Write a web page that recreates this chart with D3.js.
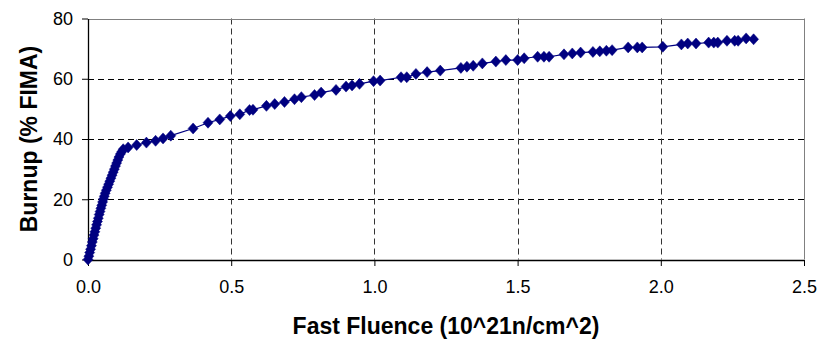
<!DOCTYPE html>
<html>
<head>
<meta charset="utf-8">
<script src="https://cdn.jsdelivr.net/npm/d3@7/dist/d3.min.js"></script>
<style>
  html, body { margin: 0; padding: 0; background: #fff; }
  svg { display: block; }
  text { font-family: Arial, "Liberation Sans", sans-serif; fill: #000; }
</style>
</head>
<body>
<svg id="chart" width="838" height="343"></svg>
<script>
const fluence = [
  0, 0.003, 0.006, 0.009, 0.012, 0.015, 0.018, 0.021, 0.024, 0.027,
  0.030, 0.033, 0.036, 0.039, 0.042, 0.045, 0.048, 0.051, 0.054, 0.057,
  0.060, 0.064, 0.068, 0.072, 0.076, 0.080, 0.084, 0.088, 0.092, 0.096,
  0.100, 0.104, 0.108, 0.113, 0.118, 0.123,
  0.140, 0.170, 0.204, 0.236, 0.262, 0.289, 0.367, 0.419, 0.460, 0.497,
  0.530, 0.564, 0.576, 0.623, 0.652, 0.686, 0.721, 0.745, 0.791, 0.814,
  0.866, 0.901, 0.922, 0.948, 0.997, 1.020, 1.093, 1.113, 1.145, 1.184,
  1.230, 1.302, 1.323, 1.345, 1.377, 1.424, 1.459, 1.500, 1.523, 1.570,
  1.592, 1.610, 1.662, 1.691, 1.720, 1.763, 1.787, 1.810, 1.830, 1.886,
  1.918, 1.935, 2.007, 2.072, 2.094, 2.123, 2.167, 2.185, 2.199, 2.231,
  2.258, 2.270, 2.298, 2.324
];
const burnup = [
  0, 1.1, 2.3, 3.4, 4.6, 5.8, 6.9, 8.1, 9.2, 10.4,
  11.5, 12.6, 13.7, 14.9, 15.9, 17.0, 18.0, 19.1, 20.1, 21.0,
  22.0, 23.0, 24.0, 25.0, 26.0, 27.0, 28.0, 29.0, 30.0, 31.0,
  32.0, 33.0, 34.0, 35.0, 35.8, 36.6,
  37.2, 38.0, 38.8, 39.4, 40.2, 41.1, 43.5, 45.4, 46.5, 47.6,
  48.2, 49.6, 49.7, 51.0, 51.6, 52.3, 53.2, 53.9, 54.6, 55.4,
  56.3, 57.4, 57.8, 58.3, 59.2, 59.4, 60.5, 60.5, 61.6, 62.2,
  62.7, 63.6, 64.0, 64.3, 65.1, 65.7, 66.2, 66.2, 66.8, 67.3,
  67.3, 67.3, 68.1, 68.4, 68.7, 68.9, 69.1, 69.3, 69.5, 70.4,
  70.4, 70.4, 70.6, 71.4, 71.7, 71.7, 72.0, 72.0, 72.0, 72.6,
  72.6, 72.6, 73.4, 73.1
];
const xTicks = [0, 0.5, 1.0, 1.5, 2.0, 2.5];
const yTicks = [0, 20, 40, 60, 80];
const xTitle = "Fast Fluence (10^21n/cm^2)";
const yTitle = "Burnup (% FIMA)";

const svg = d3.select("#chart");
const L = 88, R = 804, T = 18.5, B = 259.5;
const x = d3.scaleLinear().domain([0, 2.5]).range([L, R]);
const y = d3.scaleLinear().domain([0, 80]).range([B, T]);

// gridlines
const grid = svg.append("g");
grid.selectAll("line.h").data(yTicks.filter(d => d > 0 && d < 80)).enter().append("line")
  .attr("x1", L).attr("x2", R).attr("y1", d => Math.round(y(d)) + 0.5).attr("y2", d => Math.round(y(d)) + 0.5)
  .attr("stroke", "#000").attr("stroke-width", 1).attr("stroke-dasharray", "6,4");
grid.selectAll("line.v").data(xTicks.filter(d => d > 0 && d < 2.5)).enter().append("line")
  .attr("x1", d => Math.round(x(d)) + 0.5).attr("x2", d => Math.round(x(d)) + 0.5).attr("y1", T).attr("y2", B)
  .attr("stroke", "#333").attr("stroke-width", 1).attr("stroke-dasharray", "6,4");

// top/right border
svg.append("line").attr("x1", L).attr("x2", R + 0.5).attr("y1", Math.round(T) + 0.5).attr("y2", Math.round(T) + 0.5)
  .attr("stroke", "#808080").attr("stroke-width", 1);
svg.append("line").attr("x1", Math.round(R) + 0.5).attr("x2", Math.round(R) + 0.5).attr("y1", T).attr("y2", B)
  .attr("stroke", "#808080").attr("stroke-width", 1);

// axes
const xAxis = d3.axisBottom(x).tickValues(xTicks).tickFormat(d3.format(".1f")).tickSizeInner(6).tickSizeOuter(0).tickPadding(14);
const yAxis = d3.axisLeft(y).tickValues(yTicks).tickFormat(d3.format("d")).tickSizeInner(6).tickSizeOuter(0).tickPadding(9);
const gx = svg.append("g").attr("transform", `translate(0,${Math.round(B)})`).call(xAxis);
const gy = svg.append("g").attr("transform", `translate(${Math.round(L)},0)`).call(yAxis);
[gx, gy].forEach(g => {
  g.select(".domain").attr("stroke", "#000").attr("stroke-width", 1.3);
  g.selectAll(".tick line").attr("stroke", "#000");
  g.selectAll(".tick text").attr("font-size", 18).attr("font-family", "Arial, 'Liberation Sans', sans-serif").attr("fill", "#000");
});

// line
const pts = fluence.map((f, i) => [f, burnup[i]]);
svg.append("path").datum(pts)
  .attr("fill", "none").attr("stroke", "#000080").attr("stroke-width", 1.2)
  .attr("d", d3.line().x(d => x(d[0])).y(d => y(d[1])));

// markers
svg.append("g").selectAll("path").data(pts).enter().append("path")
  .attr("d", "M0,-5.5L5,0L0,5.5L-5,0Z")
  .attr("transform", d => `translate(${x(d[0])},${y(d[1])})`)
  .attr("fill", "#000080").attr("stroke", "#000080").attr("stroke-width", 0.5);

// titles
svg.append("text").attr("x", (L + R) / 2).attr("y", 334)
  .attr("text-anchor", "middle").attr("font-size", 23).attr("font-weight", "bold").text(xTitle);
svg.append("text").attr("transform", `translate(37,${(T + B) / 2}) rotate(-90)`)
  .attr("text-anchor", "middle").attr("font-size", 23).attr("font-weight", "bold").text(yTitle);
</script>
</body>
</html>
